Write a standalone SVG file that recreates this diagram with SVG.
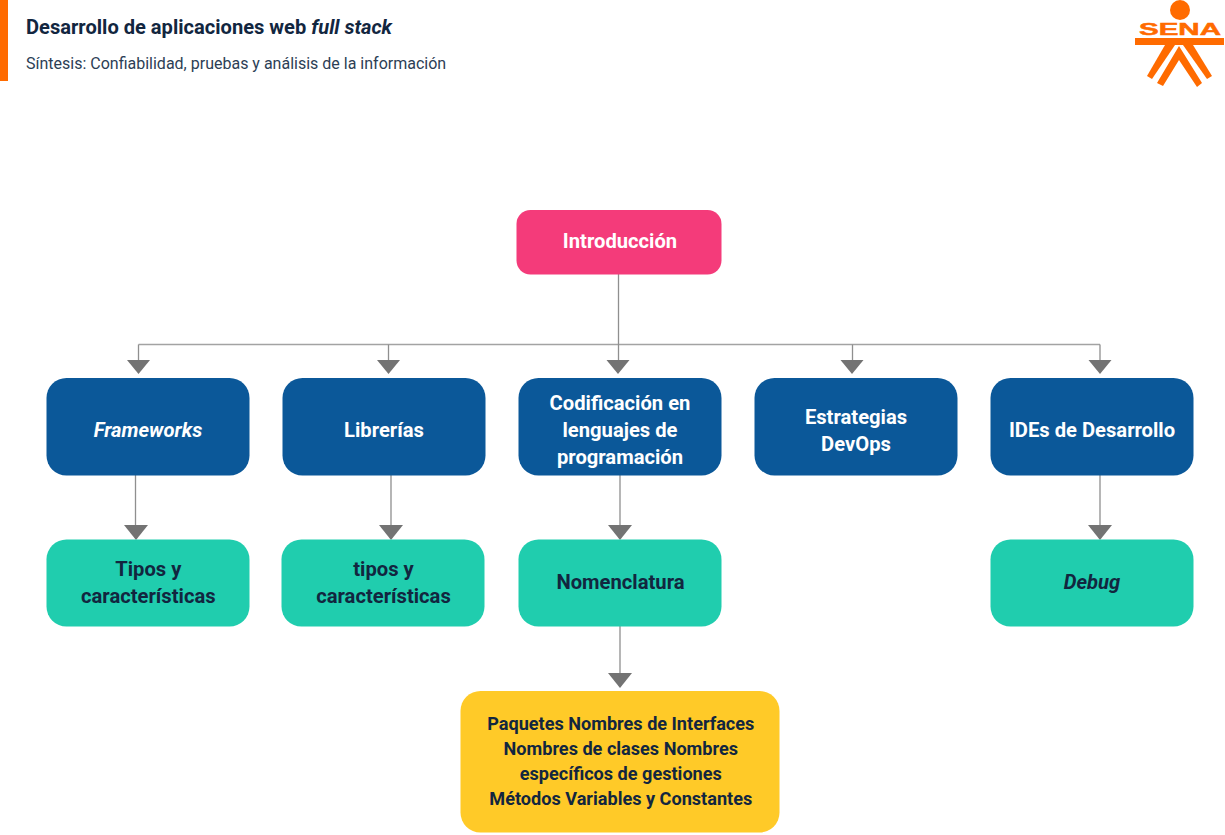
<svg xmlns="http://www.w3.org/2000/svg" width="1225" height="835" viewBox="0 0 1225 835">
<style>
text{font-family:Roboto,"Liberation Sans",sans-serif}
.t{font-size:20.2px;font-weight:700;text-anchor:middle}
.s{font-size:18.1px}
.w{fill:#fff}.d{fill:#12263f}
.blue{fill:#0b5899}.green{fill:#20cdae}
.c{fill:none;stroke:#8f8f8f;stroke-width:1.3}
.h{stroke:#a3a3a3}
.a{fill:#737373}
.logo{fill:#ff6b00}
</style>
<rect width="1225" height="835" fill="#fff"/>
<g id="header">
<rect x="0" y="0" width="8" height="81" fill="#ff6b00"/>
<text x="26" y="33.500" font-size="20.100" font-weight="700" fill="#12263f">Desarrollo de aplicaciones web <tspan font-style="italic">full stack</tspan></text>
<text x="26" y="68.500" font-size="16" fill="#2c3e55">Síntesis: Confiabilidad, pruebas y análisis de la información</text>
</g>
<g id="logo">
<circle cx="1180" cy="10" r="10" class="logo"/>
<text x="1139" y="35" font-size="17" font-weight="700" class="logo" stroke="#ff6b00" stroke-width="0.5" style="font-family:'Liberation Sans',sans-serif" textLength="82" lengthAdjust="spacingAndGlyphs">SENA</text>
<rect x="1135" y="38" width="89" height="7" class="logo"/>
<polygon class="logo" points="1165,45 1175,45 1152,79 1147,76"/>
<polygon class="logo" points="1183,45 1193,45 1212,76 1207,79"/>
<polygon class="logo" points="1179,46 1202,83 1197,87 1179,60 1163,86 1157,83"/>
</g>
<g id="connectors">
<path class="c h" d="M138.500 344.500H1100"/>
<path class="c" d="M618.500 274V362M138.500 362V344.500M1100 344.500V362M388.500 344.500V362M852.500 344.500V362M135.500 475V526M391 475V526M620 475V526M1100 475V526M620 626V674"/>
<polygon class="a" points="127,360 150,360 138.500,374"/>
<polygon class="a" points="377,360 400,360 388.500,374"/>
<polygon class="a" points="606.500,360 629.500,360 618,374"/>
<polygon class="a" points="840.500,360 863.500,360 852,374"/>
<polygon class="a" points="1088.500,360 1111.500,360 1100,374"/>
<polygon class="a" points="124,525 148,525 136,540"/>
<polygon class="a" points="379,525 403,525 391,540"/>
<polygon class="a" points="608,525 632,525 620,540"/>
<polygon class="a" points="1088,525 1112,525 1100,540"/>
<polygon class="a" points="608,673 632,673 620,688"/>
</g>
<g id="n-intro"><rect x="516.500" y="210" width="205" height="64.500" rx="14" fill="#f43b7a"/><text class="t w" x="620" y="247.500">Introducción</text></g>
<g id="n-frameworks"><rect class="blue" x="46.500" y="378" width="203" height="97.500" rx="20"/><text class="t w" x="148" y="436.500" font-style="italic">Frameworks</text></g>
<g id="n-librerias"><rect class="blue" x="282.500" y="378" width="203" height="97.500" rx="20"/><text class="t w" x="384" y="436.500">Librerías</text></g>
<g id="n-codificacion"><rect class="blue" x="518.500" y="378" width="203" height="97.500" rx="20"/><text class="t w" x="620" y="409.500">Codificación en</text><text class="t w" x="620" y="436.500">lenguajes de</text><text class="t w" x="620" y="463.500">programación</text></g>
<g id="n-devops"><rect class="blue" x="754.500" y="378" width="203" height="97.500" rx="20"/><text class="t w" x="856" y="423.500">Estrategias</text><text class="t w" x="856" y="450.500">DevOps</text></g>
<g id="n-ides"><rect class="blue" x="990.500" y="378" width="203" height="97.500" rx="20"/><text class="t w" x="1092" y="436.500">IDEs de Desarrollo</text></g>
<g id="n-tipos1"><rect class="green" x="46.500" y="539.500" width="203" height="87" rx="20"/><text class="t d" x="148.300" y="575.500">Tipos y</text><text class="t d" x="148.300" y="602.500">características</text></g>
<g id="n-tipos2"><rect class="green" x="281.500" y="539.500" width="203" height="87" rx="20"/><text class="t d" x="383.500" y="575.500">tipos y</text><text class="t d" x="383.500" y="602.500">características</text></g>
<g id="n-nomenclatura"><rect class="green" x="518.500" y="539.500" width="203" height="87" rx="20"/><text class="t d" x="620.500" y="588.500">Nomenclatura</text></g>
<g id="n-debug"><rect class="green" x="990.500" y="539.500" width="203" height="87" rx="20"/><text class="t d" x="1092" y="588.500" font-style="italic">Debug</text></g>
<g id="n-paquetes"><rect x="460.500" y="691" width="319" height="141.500" rx="20" fill="#ffca28"/>
<text class="t d s" x="620.800" y="729.500">Paquetes Nombres de Interfaces</text>
<text class="t d s" x="620.800" y="754.500">Nombres de clases Nombres</text>
<text class="t d s" x="620.800" y="779.500">específicos de gestiones</text>
<text class="t d s" x="620.800" y="804.500">Métodos Variables y Constantes</text></g>
</svg>
